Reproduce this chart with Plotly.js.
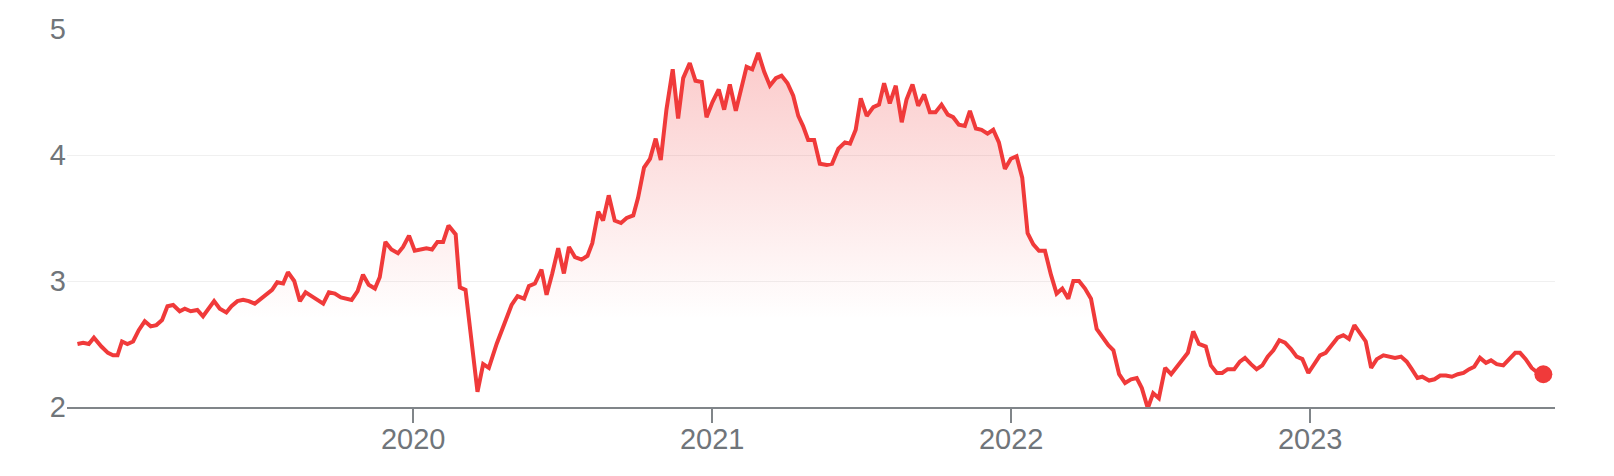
<!DOCTYPE html>
<html>
<head>
<meta charset="utf-8">
<script src="https://cdn.plot.ly/plotly-3.0.1.min.js"></script>
<style>
  html, body { margin: 0; padding: 0; background: #ffffff; }
  #chart { width: 1614px; height: 476px; }
</style>
</head>
<body>
<div id="chart"></div>
<script>
// Time as fractional year (weekly closes)
const times = [
  2018.877, 2018.896, 2018.915, 2018.932, 2018.957, 2018.979, 2018.996, 2019.011, 2019.026, 2019.044,
  2019.063, 2019.082, 2019.102, 2019.122, 2019.141, 2019.160, 2019.178, 2019.197, 2019.219, 2019.236,
  2019.256, 2019.278, 2019.297, 2019.314, 2019.334, 2019.353, 2019.375, 2019.392, 2019.412, 2019.431,
  2019.450, 2019.470, 2019.487, 2019.509, 2019.528, 2019.545, 2019.565, 2019.581, 2019.602, 2019.621,
  2019.640, 2019.660, 2019.680, 2019.699, 2019.718, 2019.738, 2019.758, 2019.777, 2019.794, 2019.814,
  2019.832, 2019.851, 2019.872, 2019.888, 2019.907, 2019.927, 2019.949, 2019.966, 2019.986, 2020.005,
  2020.028, 2020.044, 2020.063, 2020.081, 2020.100, 2020.118, 2020.142, 2020.156, 2020.175, 2020.215,
  2020.234, 2020.253, 2020.279, 2020.306, 2020.329, 2020.349, 2020.371, 2020.387, 2020.407, 2020.429,
  2020.446, 2020.465, 2020.485, 2020.504, 2020.521, 2020.541, 2020.563, 2020.583, 2020.599, 2020.619,
  2020.635, 2020.654, 2020.674, 2020.695, 2020.714, 2020.736, 2020.752, 2020.772, 2020.792, 2020.811,
  2020.828, 2020.847, 2020.868, 2020.886, 2020.903, 2020.925, 2020.944, 2020.965, 2020.981, 2021.001,
  2021.022, 2021.040, 2021.059, 2021.079, 2021.098, 2021.115, 2021.134, 2021.154, 2021.174, 2021.193,
  2021.213, 2021.232, 2021.252, 2021.271, 2021.288, 2021.304, 2021.321, 2021.341, 2021.360, 2021.383,
  2021.401, 2021.422, 2021.444, 2021.461, 2021.480, 2021.497, 2021.517, 2021.539, 2021.558, 2021.575,
  2021.594, 2021.614, 2021.634, 2021.650, 2021.670, 2021.689, 2021.709, 2021.728, 2021.747, 2021.767,
  2021.788, 2021.806, 2021.825, 2021.845, 2021.862, 2021.882, 2021.901, 2021.921, 2021.940, 2021.959,
  2021.979, 2021.999, 2022.018, 2022.037, 2022.055, 2022.074, 2022.093, 2022.113, 2022.133, 2022.152,
  2022.171, 2022.191, 2022.208, 2022.227, 2022.247, 2022.267, 2022.286, 2022.305, 2022.325, 2022.342,
  2022.361, 2022.381, 2022.401, 2022.420, 2022.437, 2022.457, 2022.475, 2022.494, 2022.515, 2022.535,
  2022.554, 2022.570, 2022.591, 2022.609, 2022.628, 2022.651, 2022.668, 2022.688, 2022.706, 2022.724,
  2022.746, 2022.765, 2022.782, 2022.802, 2022.821, 2022.840, 2022.858, 2022.877, 2022.897, 2022.916,
  2022.936, 2022.955, 2022.974, 2022.994, 2023.014, 2023.033, 2023.052, 2023.072, 2023.092, 2023.111,
  2023.130, 2023.148, 2023.167, 2023.186, 2023.204, 2023.223, 2023.245, 2023.264, 2023.284, 2023.304,
  2023.323, 2023.340, 2023.359, 2023.375, 2023.398, 2023.416, 2023.435, 2023.454, 2023.474, 2023.494,
  2023.513, 2023.532, 2023.549, 2023.568, 2023.588, 2023.605, 2023.624, 2023.646, 2023.666, 2023.686,
  2023.702, 2023.721, 2023.741, 2023.762, 2023.780
];

const prices = [
  2.50, 2.51, 2.50, 2.55, 2.48, 2.43, 2.41, 2.41, 2.52, 2.50,
  2.52, 2.61, 2.68, 2.64, 2.65, 2.69, 2.80, 2.81, 2.76, 2.78,
  2.76, 2.77, 2.72, 2.78, 2.84, 2.78, 2.75, 2.80, 2.84, 2.85,
  2.84, 2.82, 2.85, 2.89, 2.93, 2.99, 2.98, 3.07, 3.00, 2.84,
  2.91, 2.88, 2.85, 2.82, 2.91, 2.90, 2.87, 2.86, 2.85, 2.92,
  3.05, 2.97, 2.94, 3.03, 3.31, 3.25, 3.22, 3.27, 3.36, 3.24,
  3.25, 3.26, 3.25, 3.31, 3.31, 3.44, 3.37, 2.95, 2.93, 2.12,
  2.34, 2.31, 2.50, 2.67, 2.81, 2.88, 2.86, 2.96, 2.98, 3.09,
  2.89, 3.06, 3.26, 3.06, 3.27, 3.19, 3.17, 3.20, 3.30, 3.55,
  3.48, 3.68, 3.48, 3.46, 3.50, 3.52, 3.66, 3.90, 3.97, 4.13,
  3.96, 4.36, 4.68, 4.29, 4.61, 4.73, 4.59, 4.58, 4.30, 4.42,
  4.52, 4.36, 4.56, 4.35, 4.54, 4.70, 4.68, 4.81, 4.66, 4.55,
  4.61, 4.63, 4.57, 4.47, 4.31, 4.23, 4.12, 4.12, 3.93, 3.92,
  3.93, 4.05, 4.10, 4.09, 4.20, 4.45, 4.31, 4.38, 4.40, 4.57,
  4.41, 4.55, 4.26, 4.44, 4.56, 4.39, 4.48, 4.34, 4.34, 4.40,
  4.32, 4.30, 4.24, 4.23, 4.35, 4.21, 4.20, 4.17, 4.20, 4.10,
  3.89, 3.97, 3.99, 3.82, 3.38, 3.29, 3.24, 3.24, 3.05, 2.90,
  2.94, 2.86, 3.00, 3.00, 2.94, 2.86, 2.62, 2.55, 2.49, 2.45,
  2.26, 2.19, 2.22, 2.23, 2.15, 1.99, 2.11, 2.07, 2.31, 2.26,
  2.32, 2.36, 2.43, 2.60, 2.50, 2.48, 2.33, 2.27, 2.27, 2.30,
  2.30, 2.36, 2.39, 2.34, 2.30, 2.33, 2.40, 2.45, 2.53, 2.51,
  2.46, 2.40, 2.38, 2.27, 2.34, 2.41, 2.43, 2.49, 2.55, 2.57,
  2.54, 2.65, 2.59, 2.52, 2.31, 2.38, 2.41, 2.40, 2.39, 2.40,
  2.36, 2.30, 2.23, 2.24, 2.21, 2.22, 2.25, 2.25, 2.24, 2.26,
  2.27, 2.30, 2.32, 2.39, 2.35, 2.37, 2.34, 2.33, 2.38, 2.43,
  2.43, 2.38, 2.31, 2.27, 2.26
];

const yearTicks = [2020, 2021, 2022, 2023];
const yearLabels = ['2020', '2021', '2022', '2023'];
const priceTicks = [2, 3, 4, 5];
const priceLabels = ['2', '3', '4', '5'];

const RED = '#f03a3a';
const GREY = '#70757a';

const lastT = times[times.length - 1];
const lastP = prices[prices.length - 1];

const traces = [
  {
    x: times, y: prices,
    type: 'scatter', mode: 'lines',
    line: { color: RED, width: 4, shape: 'linear' },
    fill: 'tozeroy',
    fillgradient: {
      type: 'vertical',
      start: 2.7, stop: 4.9,
      colorscale: [[0, 'rgba(240,58,58,0)'], [1, 'rgba(240,58,58,0.28)']]
    },
    hoverinfo: 'skip'
  },
  {
    x: [lastT], y: [lastP],
    type: 'scatter', mode: 'markers',
    marker: { color: RED, size: 18 },
    cliponaxis: false,
    hoverinfo: 'skip'
  }
];

const layout = {
  width: 1614, height: 476,
  margin: { l: 67, r: 59, t: 29, b: 69, pad: 0 },
  paper_bgcolor: '#ffffff', plot_bgcolor: '#ffffff',
  showlegend: false,
  font: { family: 'Arial, "Liberation Sans", sans-serif', color: GREY, size: 29 },
  xaxis: {
    range: [2018.842, 2023.819],
    tickmode: 'array', tickvals: yearTicks, ticktext: yearLabels,
    showgrid: false, zeroline: false,
    showline: true, linecolor: '#808589', linewidth: 2,
    ticks: 'outside', ticklen: 14, tickwidth: 2, tickcolor: '#808589',
    ticklabelstandoff: -9,
    tickfont: { size: 29, color: GREY },
    automargin: false, fixedrange: true
  },
  yaxis: {
    range: [2, 5],
    tickmode: 'array', tickvals: priceTicks, ticktext: priceLabels,
    showgrid: true, gridcolor: '#f0f0f0', gridwidth: 1,
    zeroline: false, showline: false,
    ticks: '', ticklabelstandoff: 0,
    tickfont: { size: 29, color: GREY },
    automargin: false, fixedrange: true
  }
};

Plotly.newPlot('chart', traces, layout, { staticPlot: true, displayModeBar: false });
</script>
</body>
</html>
